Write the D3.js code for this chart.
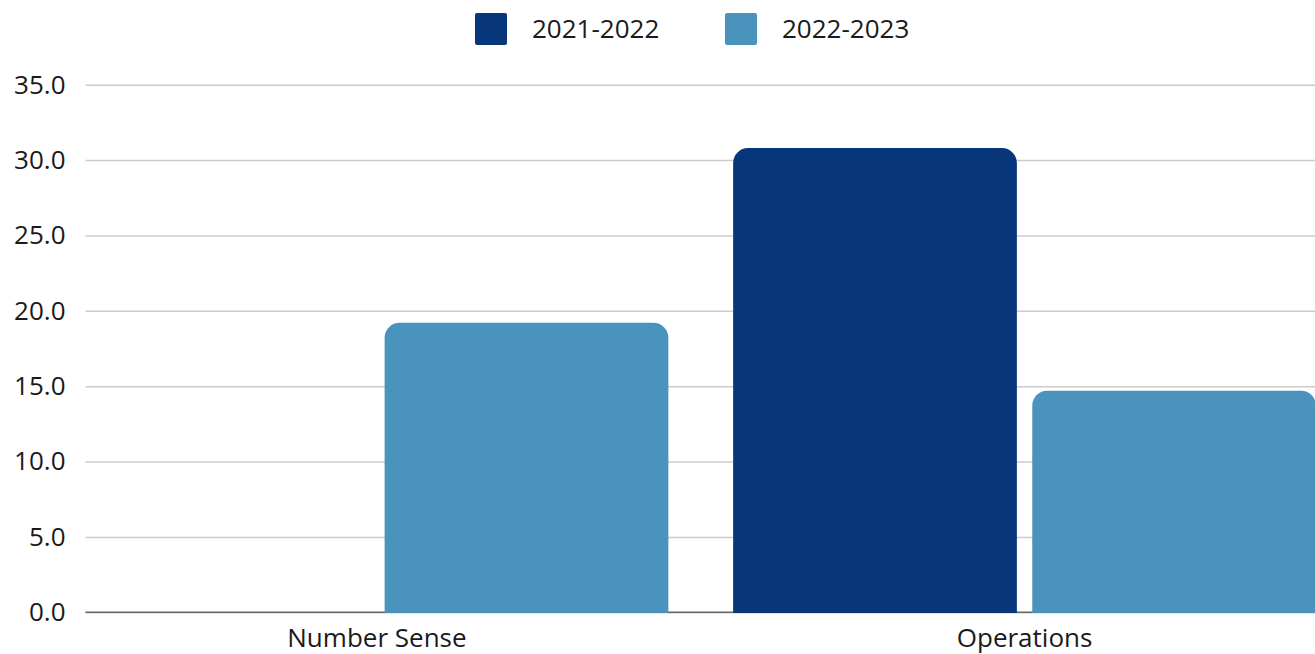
<!DOCTYPE html>
<html>
<head>
<meta charset="utf-8">
<script src="https://cdn.jsdelivr.net/npm/d3@7"></script>
<style>
  html, body { margin: 0; padding: 0; background: #fff; }
  svg { display: block; font-family: "Open Sans", "Noto Sans", sans-serif; }
</style>
</head>
<body>
<svg id="chart" width="1315" height="654"></svg>
<script>
// Chart data
const categories = ["Number Sense", "Operations"];
const seriesNames = ["2021-2022", "2022-2023"];
const values2021 = [0, 30.8];
const values2022 = [19.2, 14.7];
const yTicks = [0, 5, 10, 15, 20, 25, 30, 35];
const colors = ["#08367A", "#4A93BD"];

const seriesValues = [values2021, values2022];
const rows = categories.map((c, i) => ({
  category: c,
  values: seriesNames.map((s, j) => ({ series: s, idx: j, value: seriesValues[j][i] }))
}));

const W = 1315, H = 654;
const plotLeft = 85.5, plotRight = 1316, plotTop = 84.7, plotBottom = 612.3;

const svg = d3.select("#chart");

const x0 = d3.scaleBand().domain(categories).range([plotLeft, plotRight])
  .paddingInner(0.1).paddingOuter(0);
const x1 = d3.scaleBand().domain(seriesNames).range([0, x0.bandwidth()])
  .paddingInner(0.0514).paddingOuter(0);
const y = d3.scaleLinear().domain([0, 35]).range([plotBottom, plotTop]);

// Grid lines and y labels
const yAxis = d3.axisLeft(y).tickValues(yTicks).tickFormat(d3.format(".1f"))
  .tickSize(-(W - plotLeft)).tickPadding(20);
const gy = svg.append("g").attr("transform", `translate(${plotLeft},0)`).call(yAxis);
gy.select(".domain").remove();
gy.selectAll(".tick line").attr("stroke", "#cccccc").attr("stroke-width", 1.5);
gy.selectAll(".tick text").attr("fill", "#1a1a1a").attr("font-size", 26)
  .attr("font-family", "Open Sans, Noto Sans, sans-serif")
  .attr("x", -20).attr("text-anchor", "end");

// Baseline
svg.append("line")
  .attr("x1", plotLeft).attr("x2", W)
  .attr("y1", y(0)).attr("y2", y(0))
  .attr("stroke", "#666").attr("stroke-width", 1.5);

// Bars with rounded top corners
const r = 15;
function barPath(x, w, yTop, yBot) {
  const h = yBot - yTop;
  if (h <= 1) return "";
  const rr = Math.min(r, h, w / 2);
  return `M${x},${yBot}V${yTop + rr}A${rr},${rr} 0 0 1 ${x + rr},${yTop}` +
    `H${x + w - rr}A${rr},${rr} 0 0 1 ${x + w},${yTop + rr}V${yBot}Z`;
}

const groups = svg.append("g").selectAll("g").data(rows).join("g")
  .attr("transform", d => `translate(${x0(d.category)},0)`);
groups.selectAll("path").data(d => d.values).join("path")
  .attr("fill", d => colors[d.idx])
  .attr("d", d => d.value > 0 ? barPath(x1(d.series), x1.bandwidth(), y(d.value), y(0) + 0.8) : "");

// Category labels
const xAxis = d3.axisBottom(x0).tickSize(0).tickPadding(16);
const gx = svg.append("g").attr("transform", `translate(0,${plotBottom})`).call(xAxis);
gx.select(".domain").remove();
gx.selectAll(".tick text").attr("fill", "#1a1a1a").attr("font-size", 26)
  .attr("font-family", "Open Sans, Noto Sans, sans-serif");

// Legend
const legendX = [475, 725];
const legend = svg.append("g").selectAll("g").data(seriesNames).join("g")
  .attr("transform", (d, i) => `translate(${legendX[i]},13)`);
legend.append("rect").attr("width", 32).attr("height", 32).attr("rx", 2)
  .attr("fill", (d, i) => colors[i]);
legend.append("text").attr("x", 57).attr("y", 16).attr("dy", "0.35em")
  .attr("font-size", 26).attr("fill", "#1a1a1a").text(d => d);
</script>
</body>
</html>
